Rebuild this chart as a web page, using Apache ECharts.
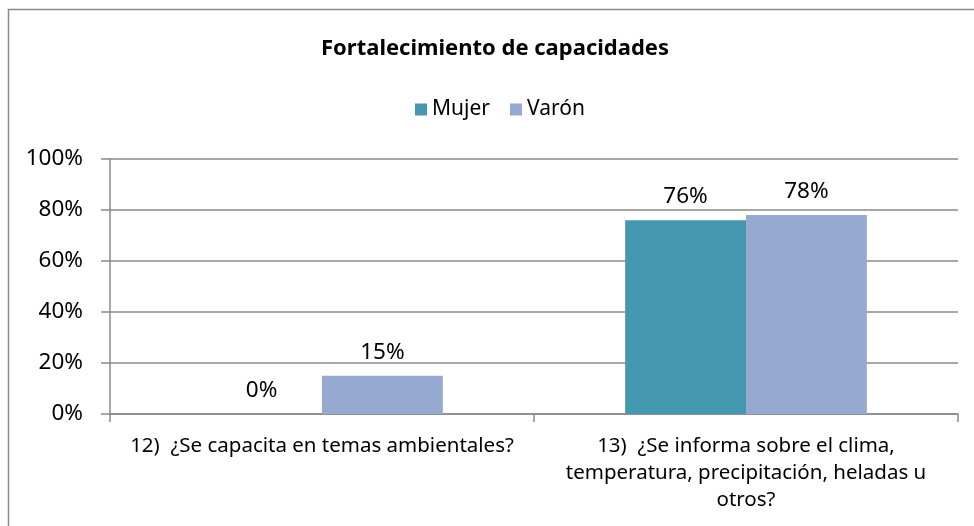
<!DOCTYPE html>
<html lang="es">
<head>
    <meta charset="UTF-8">
    <script src="https://cdn.jsdelivr.net/npm/echarts@6/dist/echarts.min.js"></script>
    <style>
        body { margin: 0; background: #ffffff; }
        #chart { width: 974px; height: 526px; }
    </style>
</head>
<body>
<div id="chart"></div>
<script type="text/javascript">
    const categories = [
        '12)  ¿Se capacita en temas ambientales?',
        '13)  ¿Se informa sobre el clima,\ntemperatura, precipitación, heladas u\notros?'
    ];
    const seriesNames = ['Mujer', 'Varón'];
    const mujer = [0, 76];
    const varon = [15, 78];
    const yTicks = [0, 20, 40, 60, 80, 100];

    const font = 'Noto Sans';
    const gray = '#8a8a8a';
    const chart = echarts.init(document.getElementById('chart'));

    function barSeries(name, data, color) {
        return {
            name: name,
            type: 'bar',
            data: data,
            barGap: '0%',
            barCategoryGap: '43%',
            itemStyle: { color: color },
            label: {
                show: true,
                position: 'top',
                distance: 12,
                formatter: '{c}%',
                color: '#000',
                fontFamily: font,
                fontSize: 22.5
            }
        };
    }

    chart.setOption({
        animation: false,
        textStyle: { fontFamily: font },
        title: {
            text: 'Fortalecimiento de capacidades',
            left: 490,
            top: 33,
            textAlign: 'center',
            textStyle: { fontFamily: font, fontSize: 22, fontWeight: 'bold', color: '#000' }
        },
        legend: {
            data: seriesNames,
            left: 410,
            top: 94,
            icon: 'rect',
            itemWidth: 12,
            itemHeight: 12,
            itemGap: 20,
            itemStyle: { borderWidth: 0 },
            textStyle: { fontFamily: font, fontSize: 21, color: '#000' }
        },
        graphic: [{
            type: 'rect',
            shape: { x: 8.5, y: 9.5, width: 1000, height: 600 },
            style: { fill: 'none', stroke: gray, lineWidth: 1.5 },
            silent: true
        }],
        grid: { left: 110, right: 16, top: 159, bottom: 112 },
        xAxis: {
            type: 'category',
            data: categories,
            axisLine: { lineStyle: { color: gray, width: 1.5 } },
            axisTick: { show: true, length: 8, lineStyle: { color: gray, width: 1.5 } },
            axisLabel: {
                margin: 19,
                color: '#000',
                fontFamily: font,
                fontSize: 20.5,
                lineHeight: 27,
                interval: 0
            }
        },
        yAxis: {
            type: 'value',
            min: yTicks[0],
            max: yTicks[yTicks.length - 1],
            interval: 20,
            axisLine: { show: true, lineStyle: { color: gray, width: 1.5 } },
            axisTick: { show: true, length: 9, lineStyle: { color: gray, width: 1.5 } },
            splitLine: { lineStyle: { color: gray, width: 1.5 } },
            axisLabel: {
                formatter: '{value}%',
                margin: 27,
                color: '#000',
                fontFamily: font,
                fontSize: 22.5
            }
        },
        series: [
            barSeries(seriesNames[0], mujer, '#4398af'),
            barSeries(seriesNames[1], varon, '#95a9d1')
        ]
    });
</script>
</body>
</html>
